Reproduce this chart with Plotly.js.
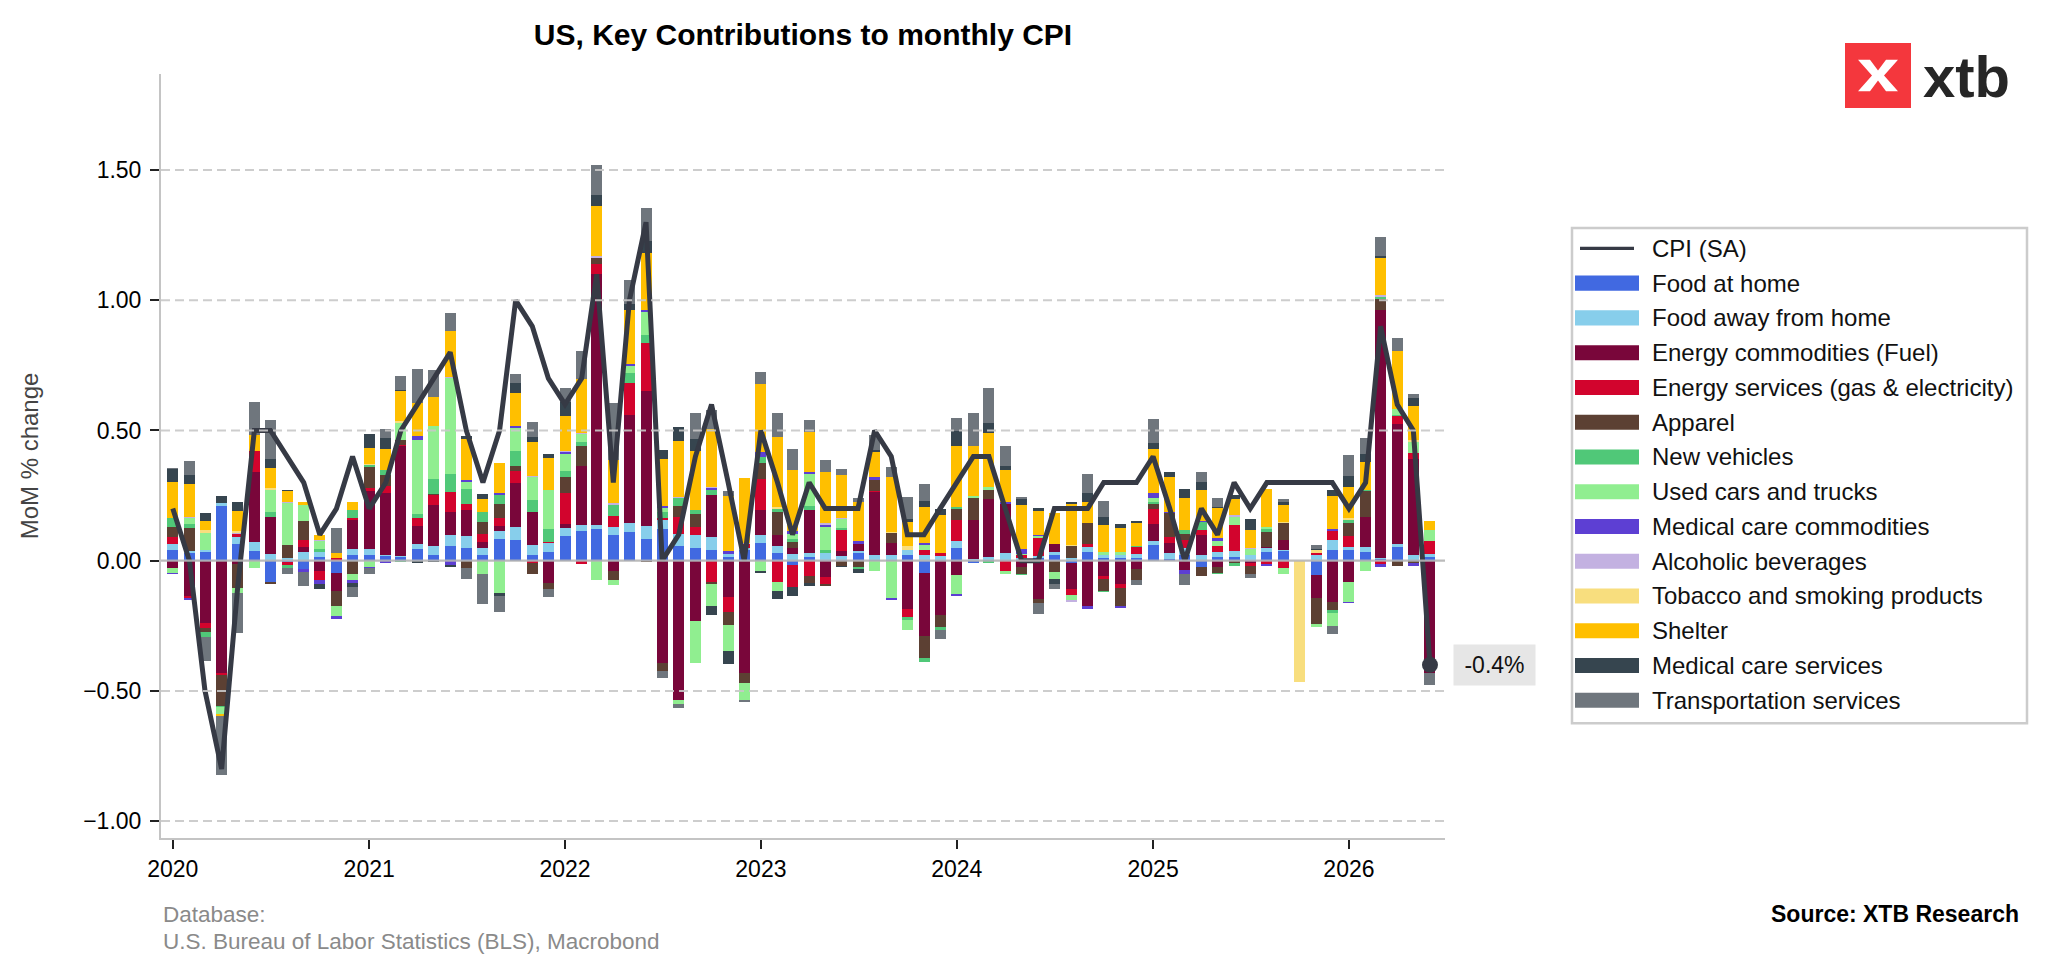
<!DOCTYPE html>
<html>
<head>
<meta charset="utf-8">
<script src="https://cdn.plot.ly/plotly-3.0.1.min.js"></script>
<style>html,body{margin:0;padding:0;background:#fff;}#chart{width:2048px;height:975px;}</style>
</head>
<body>
<div id="chart"></div>
<script>
// ---------- DATA (MoM contributions, percentage points) ----------
const firstYear = 2020, monthCount = 78;
const months = [];
for (let i = 0; i < monthCount; i++) {
  const y = firstYear + Math.floor(i / 12), m = (i % 12) + 1;
  months.push(y + '-' + String(m).padStart(2, '0') + '-01');
}
const yearTicks = ['2020-01-01','2021-01-01','2022-01-01','2023-01-01','2024-01-01','2025-01-01','2026-01-01'];
const yearLabels = ['2020','2021','2022','2023','2024','2025','2026'];
const yTicks = [-1, -0.5, 0, 0.5, 1, 1.5];

const cpi = [
  0.2, 0.0, -0.5, -0.8, -0.1, 0.5, 0.5, 0.4, 0.3, 0.1, 0.2, 0.4,
  0.2, 0.3, 0.5, 0.6, 0.7, 0.8, 0.5, 0.3, 0.5, 1.0, 0.9, 0.7,
  0.6, 0.7, 1.1, 0.3, 1.0, 1.3, 0.0, 0.1, 0.4, 0.6, 0.3, 0.0,
  0.5, 0.3, 0.1, 0.3, 0.2, 0.2, 0.2, 0.5, 0.4, 0.1, 0.1, 0.2,
  0.3, 0.4, 0.4, 0.2, 0.0, 0.0, 0.2, 0.2, 0.2, 0.3, 0.3, 0.3,
  0.4, 0.2, 0.0, 0.2, 0.1, 0.3, 0.2, 0.3, 0.3, 0.3, 0.3, 0.3,
  0.2, 0.3, 0.9, 0.6, 0.5, -0.4
];
const foodAtHome = [
  .04, .028, .032, .21, .064, .036, -.08, -.005, -.032, .015, -.047, .023,
  .023, .017, .013, .045, .02, .055, .047, .02, .083, .08, .022, .032,
  .095, .113, .12, .1, .11, .084, .12, .056, .05, .042, .014, .04,
  .067, .028, -.015, .013, .003, .003, .03, .003, .003, .022, -.046, .003,
  .05, -.007, .003, .003, .003, .01, .022, -.01, .032, .01, .01, .01,
  .062, .006, .02, -.026, .015, .013, .003, .032, .036, null, -.054, .042,
  .042, .035, .006, .051, .003, .015
];
const foodAway = [
  .023, .01, .009, .012, .026, .035, .026, .01, .032, .017, 0, .022,
  .022, .005, .006, .02, .035, .045, .046, .03, .032, .05, .04, .035,
  .032, .024, .017, .03, .036, .05, .035, .046, .047, .05, .011, .01,
  .03, .03, .026, .015, .028, .015, .009, .02, .02, .02, .02, .015,
  .026, .007, .013, .026, .006, .009, .01, .01, .019, .012, .01, .017,
  .013, .022, .03, .023, .017, .023, .019, .017, .005, null, .023, .038,
  .009, .017, .006, .013, .019, .01
];
const energyCommodities = [
  -.028, -.135, -.24, -.43, -.013, .27, .14, 0, .022, -.04, -.07, .11,
  .224, .237, .42, .067, .157, .086, .1, .02, .02, .167, .125, -.086,
  .014, .226, .964, -.038, .415, .517, -.394, -.536, -.233, .162, -.14, -.43,
  .096, .042, .023, .168, -.062, .02, .026, .24, .045, -.186, -.242, -.208,
  -.054, .15, .22, .19, -.026, -.147, .032, -.1, -.175, -.058, -.09, -.032,
  .067, .04, -.035, .077, -.023, 0, -.009, .005, .038, null, -.09, -.16,
  -.08, .115, .95, .46, .37, -.433
];
const energyServices = [
  .028, -.01, -.02, -.01, .013, .08, 0, -.013, .026, -.036, .01, .01,
  .01, .026, .006, .033, .04, .077, .026, .032, .028, .047, -.01, .004,
  .12, -.014, .04, .042, .12, .186, .008, .066, .032, -.082, -.056, .014,
  .12, -.08, -.087, -.058, -.028, .08, 0, .006, 0, -.032, .022, .013,
  .08, 0, 0, -.038, .013, .068, 0, -.023, .013, -.013, -.015, .026,
  .058, .024, .03, .019, .026, .1, -.013, -.013, -.028, null, .005, .035,
  .045, 0, -.013, .03, .023, .049
];
const apparel = [
  .04, .087, -.013, -.118, -.09, 0, -.008, .05, .074, 0, -.058, -.05,
  .082, .045, .017, 0, .006, 0, -.028, .047, .053, .02, -.04, -.023,
  .06, .078, .02, -.035, 0, -.005, -.028, .043, .052, -.007, -.05, -.04,
  .064, .086, .022, -.028, -.009, -.02, -.026, .042, .038, 0, -.086, -.045,
  .044, .083, .036, 0, -.026, -.015, -.045, .045, .08, -.045, -.068, -.041,
  .019, .09, .024, -.032, -.026, -.009, -.03, .058, .067, null, -.1, -.03,
  .047, .1, .042, -.02, -.01, 0
];
const newVehicles = [
  .031, .015, -.02, -.004, 0, 0, .02, -.009, 0, .013, 0, .03,
  .005, .02, -.005, .015, .055, .068, .058, .038, .037, .058, .045, .05,
  .022, .014, 0, .043, .04, .028, .024, .028, .015, .017, 0, 0,
  .02, .013, .013, .013, .01, .006, -.006, 0, 0, -.009, -.017, -.013,
  .008, 0, -.01, 0, -.003, 0, 0, 0, 0, -.006, 0, .005,
  .006, 0, .013, .028, -.003, -.01, 0, .01, 0, null, 0, -.012,
  .013, .006, .009, .005, 0, 0
];
const usedCars = [
  -.02, .023, .064, -.026, -.02, -.028, .086, .16, .058, .032, -.038, -.025,
  -.023, 0, .067, .285, .206, .37, .026, -.05, -.126, .087, .09, .15,
  .066, .03, -.073, -.02, .028, .09, .014, -.014, -.16, -.084, -.1, -.064,
  -.04, -.038, .019, .122, .087, .035, 0, -.04, -.145, -.04, .017, 0,
  -.074, .01, .01, -.013, .004, .006, -.026, -.019, 0, .01, .015, 0,
  .017, 0, 0, 0, .019, .032, .022, .006, -.023, null, -.01, -.049,
  -.077, -.038, 0, .025, .04, .044
];
const medicalCommodities = [
  -.004, -.005, 0, 0, 0, 0, -.003, 0, -.01, -.013, -.01, -.009,
  -.005, -.01, 0, .013, 0, -.015, .006, 0, .006, .009, 0, 0,
  .01, 0, 0, 0, .007, .007, .01, 0, 0, .008, .014, 0,
  .02, 0, .01, .009, .009, 0, .009, .009, -.005, 0, .009, 0,
  -.006, 0, 0, .005, .019, .006, 0, 0, -.012, 0, -.01, 0,
  .018, .006, -.017, .006, .01, 0, 0, -.006, 0, null, 0, .006,
  -.004, 0, -.013, 0, -.012, 0
];
const alcoholicBeverages = [
  .003, .006, .003, 0, .005, 0, 0, .004, 0, .003, 0, 0,
  0, 0, 0, 0, 0, .005, 0, 0, 0, 0, .005, 0,
  .003, .007, .01, .006, 0, 0, 0, .005, 0, .005, 0, .005,
  0, 0, 0, 0, .006, .006, 0, 0, 0, 0, 0, 0,
  0, 0, 0, 0, 0, 0, 0, -.005, 0, 0, 0, 0,
  0, 0, 0, 0, 0, .006, .004, 0, 0, null, .003, 0,
  0, 0, .008, 0, 0, 0
];
const tobacco = [
  0, 0, .01, 0, .005, 0, .006, 0, 0, 0, 0, 0,
  .006, 0, .006, 0, 0, 0, 0, 0, 0, 0, 0, 0,
  0, 0, 0, 0, 0, 0, 0, 0, 0, 0, 0, 0,
  0, .006, 0, 0, 0, 0, 0, 0, .004, .016, 0, 0,
  0, 0, 0, 0, 0, 0, 0, .006, 0, 0, 0, 0,
  0, 0, 0, 0, 0, 0, 0, 0, .004, -.465, .01, 0,
  .008, 0, 0, 0, .008, 0
];
const shelter = [
  .136, .126, .035, -.008, .077, .06, .078, .044, .015, .02, .02, .03,
  .06, .08, .115, .126, .11, .177, .158, .05, .117, .126, .128, .122,
  .135, .205, .19, .165, .207, .22, .18, .214, .226, .22, .21, .25,
  .26, .27, .237, .154, .196, .163, .15, .096, .21, .092, .14, .145,
  .233, .19, .21, .123, .17, .09, .12, .156, .08, .106, .09, .088,
  .17, .132, .122, .118, .114, .062, .068, .147, .062, null, 0, .128,
  .118, .106, .14, .22, .13, .033
];
const medicalServices = [
  .05, .035, .03, .027, .037, 0, .035, .004, 0, -.02, 0, -.017,
  .056, .042, .004, -.01, -.005, -.01, .013, .02, -.01, .038, .02, .017,
  .053, 0, .042, 0, .024, .045, .035, .056, .045, -.035, -.05, 0,
  -.008, -.03, -.032, -.013, 0, -.006, -.017, .01, 0, .01, .022, .022,
  .058, 0, .038, .018, .023, .013, -.017, .01, .035, .028, .015, .005,
  .023, .019, .036, .03, .006, .015, .044, 0, .013, null, .003, .023,
  .042, .032, .009, 0, .03, 0
];
const transportationServices = [
  .004, .054, -.092, -.228, -.154, .128, .15, -.023, -.056, 0, .096, -.04,
  -.023, .032, .054, .132, .105, .07, -.042, -.115, -.06, .035, .058, -.032,
  .053, .11, .116, .22, .09, .126, -.028, -.014, .1, .073, .018, -.01,
  .047, .092, .077, .045, .047, .023, .015, .055, .038, .086, .064, -.033,
  .05, .128, .132, .074, .006, -.042, -.02, 0, .074, .064, 0, -.02,
  .092, 0, -.04, .038, .033, 0, -.013, 0, .013, null, .017, -.03,
  .083, .06, .073, .05, .018, -.045
];

const seriesNames = ['Food at home','Food away from home','Energy commodities (Fuel)','Energy services (gas & electricity)','Apparel','New vehicles','Used cars and trucks','Medical care commodities','Alcoholic beverages','Tobacco and smoking products','Shelter','Medical care services','Transportation services'];
const seriesValues = [foodAtHome, foodAway, energyCommodities, energyServices, apparel, newVehicles, usedCars, medicalCommodities, alcoholicBeverages, tobacco, shelter, medicalServices, transportationServices];
const seriesColors = ['#4169E1','#87CEEB','#79063A','#D2042D','#5C4033','#50C878','#90EE90','#5D3FD3','#C3B1E1','#F8DE7E','#FFBF00','#36454F','#6F767D'];
const cpiName = 'CPI (SA)', cpiColor = '#363A45';

// ---------- GEOMETRY ----------
const W = 2048, H = 975, L = 161, R = 1445, T = 74, B = 837.7;
const px2x = p => (p - L) / (R - L);
const py2y = p => (B - p) / (B - T);
const FONT = 'Liberation Sans, Arial, Helvetica, sans-serif';
const DAY = 86400000;

const traces = seriesNames.map((n, i) => ({
  type: 'bar', name: n, x: months, y: seriesValues[i],
  width: 20.5 * DAY, marker: {color: seriesColors[i], line: {width: 0}},
  hoverinfo: 'skip'
}));
traces.push({type: 'scatter', mode: 'lines', name: cpiName, x: months, y: cpi,
  line: {color: cpiColor, width: 5, shape: 'linear'}, hoverinfo: 'skip'});
const lastI = cpi.length - 1;
traces.push({type: 'scatter', mode: 'markers', x: [months[lastI]], y: [cpi[lastI]],
  marker: {color: cpiColor, size: 16}, hoverinfo: 'skip', showlegend: false});

const shapes = [];
yTicks.forEach(v => {
  shapes.push({type: 'line', xref: 'paper', yref: 'y', x0: 0, x1: 1, y0: v, y1: v, layer: 'above',
    line: v === 0 ? {color: 'rgba(180,180,180,0.9)', width: 2.2} : {color: 'rgba(200,200,200,0.9)', width: 2, dash: '9px,5px'}});
});

const annotations = [];
// value label at last point
annotations.push({x: months[lastI], y: cpi[lastI], xref: 'x', yref: 'y', xanchor: 'left', yanchor: 'middle',
  xshift: 23, showarrow: false, text: cpi[lastI].toFixed(1) + '%', bgcolor: '#E6E6E6', borderpad: 6,
  width: 69, height: 28, font: {size: 23, color: '#111', family: FONT}});

// manual legend
const legTop = 228, legBot = 723, legL = 1572, legR = 2027;
shapes.push({type: 'rect', xref: 'paper', yref: 'paper', x0: px2x(legL), x1: px2x(legR), y0: py2y(legBot), y1: py2y(legTop),
  line: {color: '#CCCCCC', width: 2.5}, fillcolor: '#FFFFFF', layer: 'above'});
const legNames = [cpiName].concat(seriesNames);
legNames.forEach((n, i) => {
  const cy = 248.3 + 34.74 * i;
  if (i === 0) {
    shapes.push({type: 'line', xref: 'paper', yref: 'paper', x0: px2x(1580), x1: px2x(1634), y0: py2y(cy), y1: py2y(cy),
      line: {color: cpiColor, width: 3.2}, layer: 'above'});
  } else {
    shapes.push({type: 'rect', xref: 'paper', yref: 'paper', x0: px2x(1575), x1: px2x(1639), y0: py2y(cy + 7.5), y1: py2y(cy - 7.5),
      line: {width: 0}, fillcolor: seriesColors[i - 1], layer: 'above'});
  }
  annotations.push({xref: 'paper', yref: 'paper', x: px2x(1650), y: py2y(cy), xanchor: 'left', yanchor: 'middle',
    showarrow: false, text: n, font: {size: 24, color: '#111', family: FONT}});
});

// footer & logo text
annotations.push({xref: 'paper', yref: 'paper', x: px2x(161), y: py2y(914), xanchor: 'left', yanchor: 'middle', showarrow: false,
  text: 'Database:', font: {size: 22.5, color: '#8A8A8A', family: FONT}});
annotations.push({xref: 'paper', yref: 'paper', x: px2x(161), y: py2y(941), xanchor: 'left', yanchor: 'middle', showarrow: false,
  text: 'U.S. Bureau of Labor Statistics (BLS), Macrobond', font: {size: 22.5, color: '#8A8A8A', family: FONT}});
annotations.push({xref: 'paper', yref: 'paper', x: px2x(2021), y: py2y(914), xanchor: 'right', yanchor: 'middle', showarrow: false,
  text: '<b>Source: XTB Research</b>', font: {size: 23, color: '#000', family: FONT}});
annotations.push({xref: 'paper', yref: 'paper', x: px2x(1921), y: py2y(76), xanchor: 'left', yanchor: 'middle', showarrow: false,
  text: '<b>xtb</b>', font: {size: 58, color: '#262626', family: FONT}});

const logoSvg = "<svg xmlns='http://www.w3.org/2000/svg' viewBox='0 0 66 66'>" +
  "<rect width='66' height='66' fill='#F4373D'/>" +
  "<path d='M13 17 L25 17 L33 28 L41 17 L53 17 L39 33 L53 49 L41 49 L33 38 L25 49 L13 49 L27 33 Z' fill='#FFFFFF'/>" +
  "</svg>";

const layout = {
  width: W, height: H,
  margin: {l: L, r: W - R, t: T, b: H - B, pad: 0},
  paper_bgcolor: '#FFFFFF', plot_bgcolor: '#FFFFFF',
  barmode: 'relative', bargap: 0,
  showlegend: false, hovermode: false,
  font: {family: FONT, size: 23, color: '#000'},
  title: {text: '<b>US, Key Contributions to monthly CPI</b>', font: {size: 30, color: '#000', family: FONT},
    xref: 'paper', x: 0.5, xanchor: 'center', yref: 'container', y: 1 - 34 / H, yanchor: 'middle'},
  xaxis: {type: 'date', range: ['2019-12-10', '2026-06-29'], tickvals: yearTicks, ticktext: yearLabels,
    ticks: 'outside', ticklen: 9, tickwidth: 2, tickcolor: '#222', showline: true, linecolor: '#C4C4C4', linewidth: 2,
    showgrid: false, zeroline: false, tickfont: {size: 23, color: '#000'}, fixedrange: true},
  yaxis: {range: [-1.065, 1.869], tickvals: yTicks, tickformat: '.2f', ticksuffix: '%',
    ticks: 'outside', ticklen: 9, tickwidth: 2, tickcolor: '#222', showline: true, linecolor: '#C4C4C4', linewidth: 2,
    showgrid: false, zeroline: false, tickfont: {size: 23, color: '#000'}, fixedrange: true, ticklabelstandoff: 4,
    title: {text: 'MoM % change', font: {size: 24, color: '#444'}, standoff: 38}},
  shapes: shapes,
  annotations: annotations,
  images: [{source: 'data:image/svg+xml;charset=utf-8,' + encodeURIComponent(logoSvg), xref: 'paper', yref: 'paper',
    x: px2x(1845), y: py2y(43), sizex: 66 / (R - L), sizey: 65 / (B - T), xanchor: 'left', yanchor: 'top',
    sizing: 'stretch', layer: 'above'}]
};

Plotly.newPlot('chart', traces, layout, {displayModeBar: false, staticPlot: true});
</script>
</body>
</html>
